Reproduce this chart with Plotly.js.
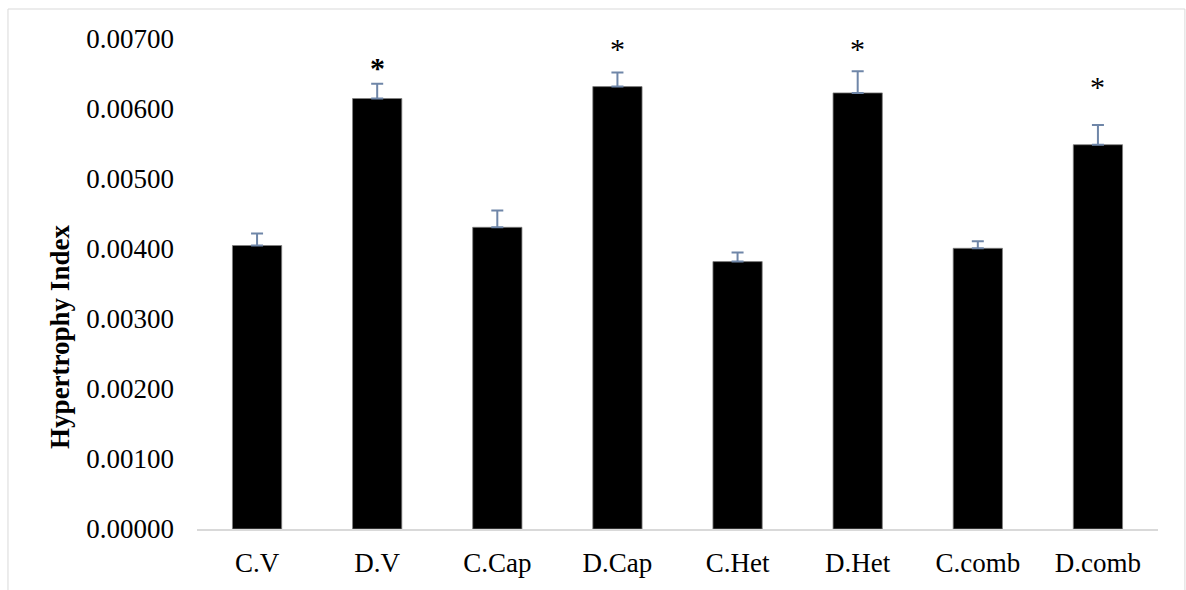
<!DOCTYPE html>
<html>
<head>
<meta charset="utf-8">
<script src="https://cdn.plot.ly/plotly-3.0.1.min.js"></script>
<style>
  html, body { margin: 0; padding: 0; background: #ffffff; }
  #chart { width: 1186px; height: 590px; }
</style>
</head>
<body>
<div id="chart"></div>
<script>
// Groups: control (C) and diabetic (D) for vehicle, capsaicin, hesperetin and combination
const groups = ['C.V', 'D.V', 'C.Cap', 'D.Cap', 'C.Het', 'D.Het', 'C.comb', 'D.comb'];
// Mean hypertrophy index per group
const hypertrophyIndex = [0.00405, 0.00615, 0.00431, 0.00632, 0.00382, 0.00623, 0.00401, 0.00549];
// Upper error (SEM) per group
const semUpper = [0.00017, 0.00021, 0.00024, 0.00020, 0.00013, 0.00031, 0.00010, 0.00028];
// Significance marks and the level at which each sits
const sigMarks = ['', '<b>*</b>', '', '*', '', '*', '', '*'];
const sigLevel = [null, 0.00660, null, 0.00686, null, 0.00686, null, 0.00632];
const yTicks = [0, 0.001, 0.002, 0.003, 0.004, 0.005, 0.006, 0.007];
const yTickText = ['0.00000', '0.00100', '0.00200', '0.00300', '0.00400', '0.00500', '0.00600', '0.00700'];

const serif = '"Liberation Serif", "Times New Roman", Times, serif';

const trace = {
  type: 'bar',
  x: groups,
  y: hypertrophyIndex,
  marker: { color: '#000000', line: { color: '#7f7f7f', width: 0.8 } },
  error_y: {
    type: 'data',
    symmetric: false,
    array: semUpper,
    arrayminus: groups.map(() => 0),
    color: '#6f86a8',
    thickness: 2,
    width: 6
  },
  hoverinfo: 'x+y'
};

const annotations = [];
groups.forEach((g, i) => {
  if (sigMarks[i]) {
    annotations.push({
      x: g, y: sigLevel[i], xref: 'x', yref: 'y',
      text: sigMarks[i], showarrow: false,
      xanchor: 'center', yanchor: 'middle',
      font: { family: serif, size: 30, color: '#000000' }
    });
  }
});

// Vertical axis title
annotations.push({
  xref: 'paper', yref: 'paper', x: -0.1426, y: 0.392,
  text: '<b>Hypertrophy Index</b>', textangle: -90, showarrow: false,
  xanchor: 'center', yanchor: 'middle',
  font: { family: serif, size: 27, color: '#000000' }
});

const layout = {
  width: 1186,
  height: 590,
  margin: { l: 197, r: 28, t: 39, b: 61 },
  paper_bgcolor: '#ffffff',
  plot_bgcolor: '#ffffff',
  showlegend: false,
  bargap: 0.59,
  font: { family: serif, size: 27, color: '#000000' },
  xaxis: {
    type: 'category',
    showline: true,
    linecolor: '#d9d9d9',
    linewidth: 1.5,
    showgrid: false,
    zeroline: false,
    ticks: '',
    ticklabelstandoff: 9,
    tickfont: { family: serif, size: 27, color: '#000000' }
  },
  yaxis: {
    range: [0, 0.007],
    tickvals: yTicks,
    ticktext: yTickText,
    showgrid: false,
    zeroline: false,
    showline: false,
    ticks: '',
    ticklabelstandoff: 22,
    tickfont: { family: serif, size: 27, color: '#000000' }
  },
  annotations: annotations,
  shapes: [{
    type: 'rect', xref: 'paper', yref: 'paper',
    x0: -0.1967, x1: 1.028, y0: -0.2, y1: 1.0612,
    line: { color: '#d9d9d9', width: 1 },
    fillcolor: 'rgba(0,0,0,0)', layer: 'below'
  }]
};

Plotly.newPlot('chart', [trace], layout, { displayModeBar: false, staticPlot: true });
</script>
</body>
</html>
